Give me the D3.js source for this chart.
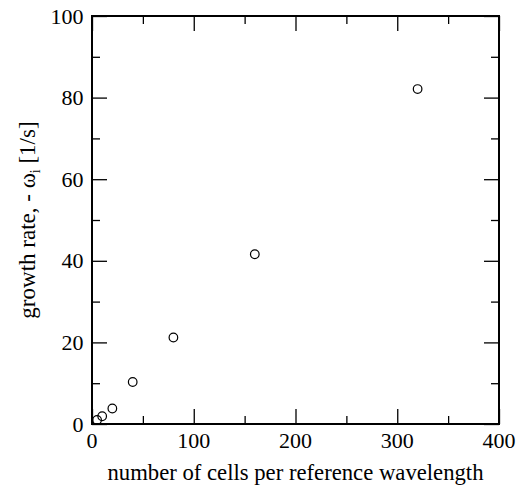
<!DOCTYPE html>
<html>
<head>
<meta charset="utf-8">
<script src="https://cdn.jsdelivr.net/npm/d3@7"></script>
<style>
  html, body { margin: 0; padding: 0; background: #fff; }
  svg { display: block; }
</style>
</head>
<body>
<svg id="plot" width="519" height="488"></svg>
<script>
// Grid resolution (cells per reference wavelength) and measured growth rate
const cellsPerWavelength = [5, 10, 20, 40, 80, 160, 320];
const growthRate = [1.0, 1.9, 3.8, 10.3, 21.2, 41.6, 82.1];

const xMajorTicks = [0, 100, 200, 300, 400];
const xMinorTicks = [50, 150, 250, 350];
const yMajorTicks = [0, 20, 40, 60, 80, 100];
const yMinorTicks = [10, 30, 50, 70, 90];

const xTitle = "number of cells per reference wavelength";

const FONT = "'Liberation Serif', 'Times New Roman', serif";

const svg = d3.select("#plot");
const W = 519, H = 488;
const margin = { left: 92, top: 16, right: W - 499, bottom: H - 424 };
const x0 = margin.left, x1 = W - margin.right;
const y0 = H - margin.bottom, y1 = margin.top;

const x = d3.scaleLinear().domain([0, 400]).range([x0, x1]);
const y = d3.scaleLinear().domain([0, 100]).range([y0, y1]);

const majorLen = 15, minorLen = 8;

// Serif text helper
function serif(sel, size) {
  return sel.attr("font-family", FONT)
            .attr("font-size", size)
            .style("font-family", FONT, "important")
            .style("font-size", size + "px", "important")
            .style("fill", "#000");
}

// Inward ticks on all four sides
function tickLayer(axisFn, scale, ticks, len, transform) {
  svg.append("g")
    .attr("transform", transform)
    .call(axisFn(scale).tickValues(ticks).tickSize(len).tickFormat(""))
    .call(g => g.select(".domain").remove())
    .call(g => g.selectAll("line").attr("stroke", "#000").attr("stroke-width", 1.3));
}
tickLayer(d3.axisTop, x, xMajorTicks, majorLen, `translate(0,${y0})`);
tickLayer(d3.axisTop, x, xMinorTicks, minorLen, `translate(0,${y0})`);
tickLayer(d3.axisBottom, x, xMajorTicks, majorLen, `translate(0,${y1})`);
tickLayer(d3.axisBottom, x, xMinorTicks, minorLen, `translate(0,${y1})`);
tickLayer(d3.axisRight, y, yMajorTicks, majorLen, `translate(${x0},0)`);
tickLayer(d3.axisRight, y, yMinorTicks, minorLen, `translate(${x0},0)`);
tickLayer(d3.axisLeft, y, yMajorTicks, majorLen, `translate(${x1},0)`);
tickLayer(d3.axisLeft, y, yMinorTicks, minorLen, `translate(${x1},0)`);

// Frame
svg.append("rect")
  .attr("x", x0).attr("y", y1)
  .attr("width", x1 - x0).attr("height", y0 - y1)
  .attr("fill", "none").attr("stroke", "#000").attr("stroke-width", 2);

// Tick labels
svg.selectAll("text.xlab").data(xMajorTicks).join("text")
  .attr("class", "xlab")
  .attr("x", d => x(d)).attr("y", 448)
  .attr("text-anchor", "middle")
  .call(serif, 22)
  .text(d => String(d));

svg.selectAll("text.ylab").data(yMajorTicks).join("text")
  .attr("class", "ylab")
  .attr("x", x0 - 8.5).attr("y", d => y(d) + 7.5)
  .attr("text-anchor", "end")
  .call(serif, 22)
  .text(d => String(d));

// Axis titles, centred on the frame
svg.append("text")
  .attr("x", (x0 + x1) / 2).attr("y", 480)
  .attr("text-anchor", "middle")
  .call(serif, 22.7)
  .text(xTitle);

const yt = svg.append("text")
  .attr("transform", `translate(35,${(y0 + y1) / 2}) rotate(-90)`)
  .attr("text-anchor", "middle")
  .call(serif, 23);
yt.append("tspan").call(serif, 23).text("growth rate, - \u03c9");
yt.append("tspan").call(serif, 14).attr("dy", 5).text("i");
yt.append("tspan").call(serif, 23).attr("dy", -5).text(" [1/s]");

// Data points
svg.append("g").selectAll("circle")
  .data(cellsPerWavelength.map((c, i) => [c, growthRate[i]]))
  .join("circle")
  .attr("cx", d => x(d[0])).attr("cy", d => y(d[1]))
  .attr("r", 4.3)
  .attr("fill", "none").attr("stroke", "#000").attr("stroke-width", 1.2);
</script>
</body>
</html>
